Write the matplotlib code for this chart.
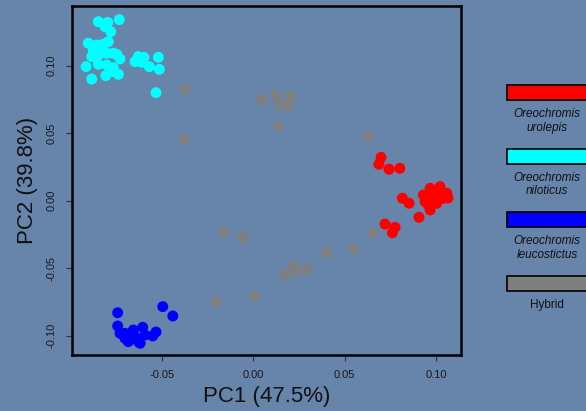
import matplotlib
matplotlib.use('Agg')
import matplotlib.pyplot as plt
from matplotlib.patches import Rectangle

plt.rcParams['font.family'] = ['Liberation Sans', 'DejaVu Sans']

BG = '#6784ab'

# PCA scores (PC1, PC2)
urolepis_pc1 = [0.0699, 0.0688, 0.0743, 0.0802, 0.0816, 0.0853, 0.0907, 0.0721, 0.0776, 0.0761,
                0.0931, 0.0968, 0.1022, 0.1059, 0.0958, 0.1004, 0.1041, 0.0986, 0.0940, 0.1022,
                0.0968, 0.0995, 0.1066]
urolepis_pc2 = [0.0321, 0.0270, 0.0233, 0.0240, 0.0018, -0.0019, -0.0123, -0.0173, -0.0197, -0.0237,
                0.0042, 0.0092, 0.0104, 0.0055, -0.0032, -0.0019, 0.0018, 0.0030, -0.0007, 0.0067,
                -0.0069, 0.0057, 0.0020]

niloticus_pc1 = [-0.0849, -0.0797, -0.0734, -0.0812, -0.0781, -0.0904, -0.0858, -0.0821, -0.0794,
                 -0.0876, -0.0840, -0.0885, -0.0849, -0.0803, -0.0767, -0.0748, -0.0730, -0.0916,
                 -0.0849, -0.0803, -0.0767, -0.0885, -0.0808, -0.0739, -0.0767, -0.0648, -0.0630,
                 -0.0599, -0.0611, -0.0570, -0.0520, -0.0515, -0.0533]
niloticus_pc2 = [0.1326, 0.1321, 0.1341, 0.1289, 0.1252, 0.1166, 0.1153, 0.1159, 0.1178,
                 0.1116, 0.1129, 0.1067, 0.1079, 0.1092, 0.1092, 0.1084, 0.1050, 0.0993,
                 0.1010, 0.1005, 0.0985, 0.0901, 0.0926, 0.0936, 0.0956, 0.1030, 0.1067,
                 0.1062, 0.1025, 0.0993, 0.1062, 0.0973, 0.0800]

leucostictus_pc1 = [-0.0743, -0.0496, -0.0441, -0.0743, -0.0730, -0.0703, -0.0685, -0.0657, -0.0648,
                    -0.0630, -0.0606, -0.0620, -0.0675, -0.0551, -0.0533, -0.0703, -0.0593]
leucostictus_pc2 = [-0.0830, -0.0785, -0.0854, -0.0928, -0.0982, -0.1019, -0.1044, -0.0958, -0.1007,
                    -0.1044, -0.0938, -0.1056, -0.0995, -0.1002, -0.0973, -0.0982, -0.0995]

hybrid_pc1 = [-0.0374, 0.0046, 0.0119, 0.0146, 0.0192, 0.0201, 0.0137, 0.0630, 0.0654, 0.0548,
              0.0402, -0.0380, -0.0164, -0.0060, -0.0206, 0.0004, 0.0174, 0.0219, 0.0234, 0.0292]
hybrid_pc2 = [0.0825, 0.0746, 0.0783, 0.0714, 0.0704, 0.0778, 0.0553, 0.0474, -0.0241, -0.0358,
              -0.0385, 0.0455, -0.0230, -0.0271, -0.0748, -0.0706, -0.0543, -0.0484, -0.0526, -0.0506]

groups = ['Oreochromis\nurolepis', 'Oreochromis\nniloticus', 'Oreochromis\nleucostictus', 'Hybrid']
colors = ['#ff0000', '#00ffff', '#0000ff', '#7f7f7f']
ticks = [-0.10, -0.05, 0.00, 0.05, 0.10]


def draw_legend(fig, W: int, H: int):
    '''Colour boxes with the group name underneath, like the R original.'''
    for i, (name, col) in enumerate(zip(groups, colors)):
        top = 85 + i * 63.7
        fig.patches.append(Rectangle((507 / W, 1 - (top + 15) / H), 100 / W, 15 / H,
                                     transform=fig.transFigure, facecolor=col,
                                     edgecolor='black', linewidth=1.2, clip_on=False))
        italic = 'italic' if name != 'Hybrid' else 'normal'
        for j, line in enumerate(name.split('\n')):
            fig.text(547 / W, 1 - (top + 29 + j * 13.5) / H, line, ha='center', va='center',
                     fontsize=8.5, style=italic, color='#111111')


W, H = 586, 411
fig = plt.figure(figsize=(W / 100, H / 100), dpi=100, facecolor=BG)
ax = fig.add_axes([72 / W, 1 - 355 / H, (461 - 72) / W, (355 - 6) / H])
ax.set_facecolor(BG)

data = [(urolepis_pc1, urolepis_pc2), (niloticus_pc1, niloticus_pc2),
        (leucostictus_pc1, leucostictus_pc2), (hybrid_pc1, hybrid_pc2)]
for (x, y), col in zip(data, colors):
    ax.scatter(x, y, s=62, color=col, edgecolors='none', zorder=3)

ax.set_xlim(-0.0993, 0.1137)
ax.set_ylim(-0.1143, 0.1442)
ax.set_xticks(ticks[1:])
ax.set_yticks(ticks)
ax.set_xticklabels(['%.2f' % t if t != 0 else '0.00' for t in ticks[1:]])
ax.set_yticklabels(['%.2f' % t if t != 0 else '0.00' for t in ticks], rotation=90, va='center')
ax.tick_params(axis='both', length=4.5, width=0.8, color='#333333', labelsize=8,
               labelcolor='#1a1a1a', pad=6.5)
for sp in ax.spines.values():
    sp.set_linewidth(1.8)
    sp.set_color('black')

ax.set_xlabel('PC1 (47.5%)', fontsize=16, color='#111111', labelpad=4)
ax.set_ylabel('PC2 (39.8%)', fontsize=16, color='#111111', labelpad=6)

draw_legend(fig, W, H)

fig.savefig('out.png', dpi=100, facecolor=BG)
